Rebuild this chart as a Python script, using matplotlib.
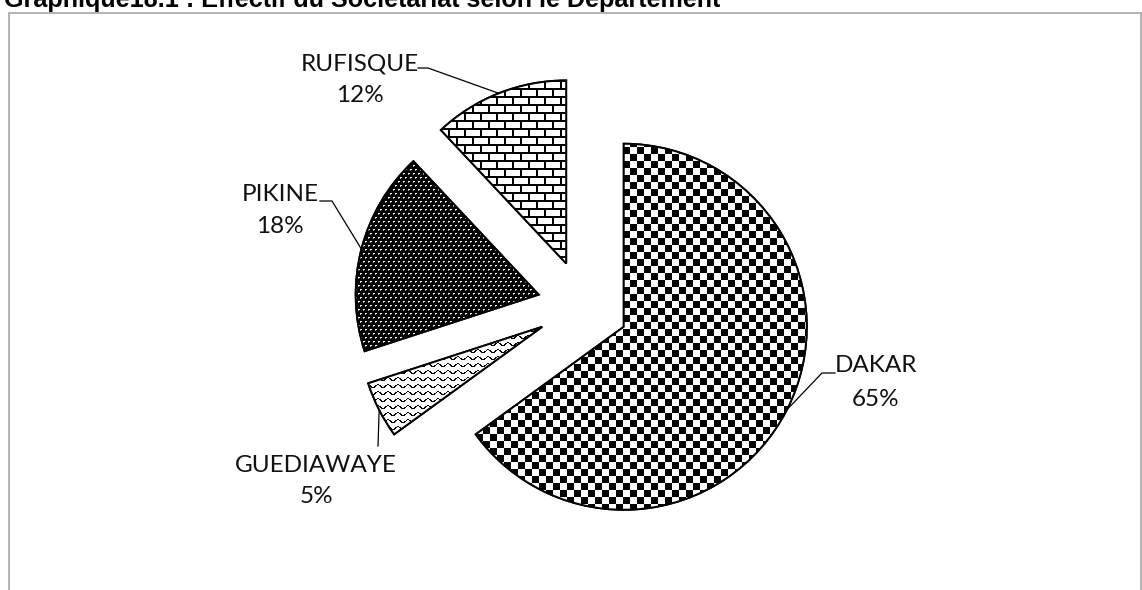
import numpy as np
import matplotlib
matplotlib.use("Agg")
import matplotlib.pyplot as plt
from matplotlib.patches import Wedge, Rectangle

# --- données ---
departements = ["DAKAR", "GUEDIAWAYE", "PIKINE", "RUFISQUE"]
parts = [65, 5, 18, 12]  # en %
titre = "Graphique18.1 : Effectif du Sociétariat selon le Département"

# --- mise en page (pixels) ---
W, H = 1142, 590
centre = (583, 284)
rayon = 183

# position des textes: (x nom, y ligne base nom, y ligne base %)
pos_labels = {
    "DAKAR": (876, 218, 184),
    "GUEDIAWAYE": (316, 118, 87),
    "PIKINE": (280, 389, 357),
    "RUFISQUE": (360, 520, 488),
}
# coude des traits de rappel (x coude, y coude, x fin horizontale)
coudes = {
    "DAKAR": (822, 217, 835),
    "GUEDIAWAYE": (378, 144, 378),
    "PIKINE": (332, 389, 320),
    "RUFISQUE": (428, 522, 418),
}

fig = plt.figure(figsize=(W / 100, H / 100), dpi=100)
ax = fig.add_axes([0, 0, 1, 1])

# explode est en unités de données -> 25 % du rayon
wedges, _ = ax.pie(parts, explode=[0.25 * rayon] * len(parts), startangle=90,
                   counterclock=False, center=centre, radius=rayon,
                   wedgeprops=dict(facecolor="white", edgecolor="black", linewidth=1.4))

# --- motifs de remplissage (façon Excel) ---
yy, xx = np.mgrid[0:H, 0:W]
damier = ((xx // 7 + yy // 7) % 2).astype(float)
brique = np.ones((H, W))
brique[(yy % 8) < 2] = 0
brique[((xx + ((yy // 8) % 2) * 8) % 16) < 2] = 0
trame = np.zeros((H, W))
trame[((yy % 4) == 1) & (((xx + 2 * ((yy // 4) % 2)) % 5) < 2)] = 1
trame[((yy % 4) == 2) & (((xx + 2 * ((yy // 4) % 2)) % 5) == 0)] = 0.6
vague = np.ones((H, W))
vague[((yy - 1.6 * np.sin(2 * np.pi * xx / 10.0)) % 7) < 1.4] = 0

motifs = {"DAKAR": damier, "GUEDIAWAYE": vague, "PIKINE": trame, "RUFISQUE": brique}

for w, dep in zip(wedges, departements):
    im = ax.imshow(motifs[dep], cmap="gray", vmin=0, vmax=1, extent=(0, W, 0, H),
                   interpolation="nearest", aspect="auto", zorder=2)
    im.set_clip_path(w)
    ax.add_patch(Wedge(w.center, w.r, w.theta1, w.theta2, fill=False,
                       edgecolor="black", linewidth=1.4, zorder=3))

# --- étiquettes ---
fs_label = 17.5
for w, dep, p in zip(wedges, departements, parts):
    xt, yn, yp = pos_labels[dep]
    ax.text(xt, yn, dep, ha="center", va="baseline", fontsize=fs_label,
            family="Lato", color="#111111")
    ax.text(xt, yp, f"{p}%", ha="center", va="baseline", fontsize=fs_label,
            family="Lato", color="#111111")
    mid = np.deg2rad((w.theta1 + w.theta2) / 2)
    xa = w.center[0] + w.r * np.cos(mid)
    ya = w.center[1] + w.r * np.sin(mid)
    xc, yc, xf = coudes[dep]
    ax.plot([xa, xc, xf], [ya, yc, yc], color="black", linewidth=0.9, zorder=4)

# cadre gris du graphique
ax.add_patch(Rectangle((9, -20), 1131.5, 577.5 + 20, fill=False,
                       edgecolor="#a6a6a6", linewidth=1.2, zorder=5))

t = ax.text(4, 582.5, titre, ha="left", va="baseline", fontsize=14,
            family="Liberation Sans", fontweight="bold", color="black")
fig.canvas.draw()
larg = t.get_window_extent(fig.canvas.get_renderer()).width
t.set_fontsize(14 * 719 / larg)

ax.set_xlim(0, W)
ax.set_ylim(0, H)
ax.axis("off")

fig.savefig("out.png", dpi=100)
